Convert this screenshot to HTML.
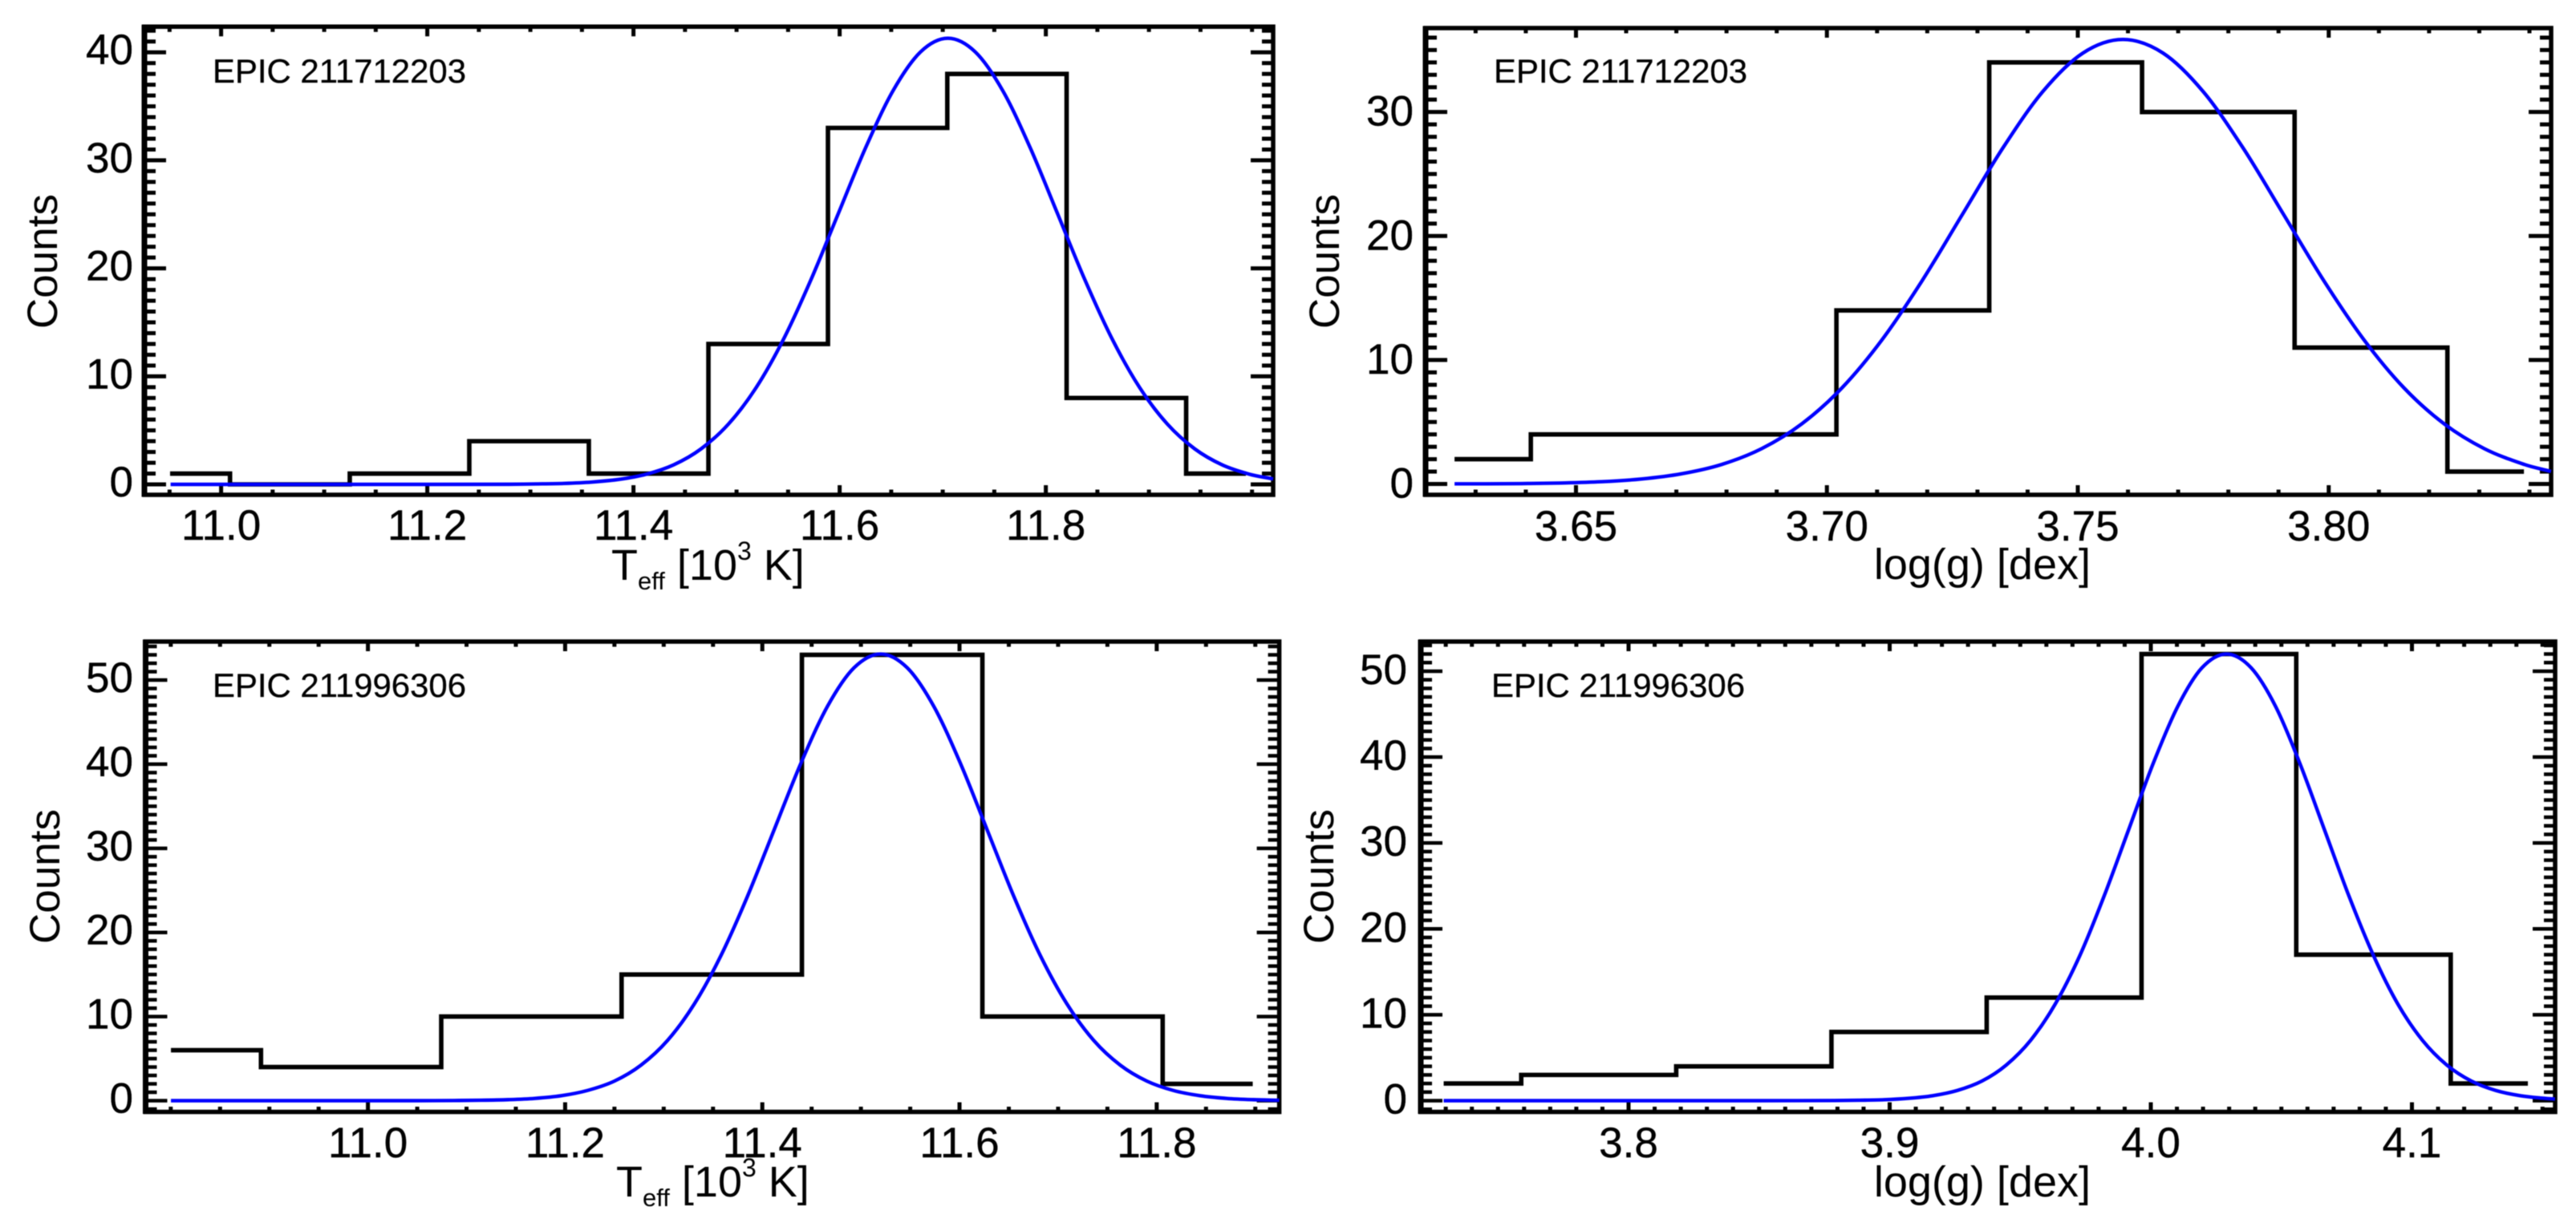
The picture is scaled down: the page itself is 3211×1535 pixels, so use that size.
<!DOCTYPE html>
<html lang="en">
<head>
<meta charset="utf-8">
<title>EPIC histograms</title>
<style>
html,body{margin:0;padding:0;background:#fff;width:3211px;height:1535px;overflow:hidden}
svg{display:block;filter:blur(0.6px)}
text{font-family:"Liberation Sans",Arial,sans-serif;fill:#000;white-space:pre}
.title{font-size:54px}
.counts{font-size:53px}
.epic{font-size:42px;stroke:#000;stroke-width:0.3px}
.tick{font-size:53px;stroke:#000;stroke-width:0.4px}
</style>
</head>
<body>
<svg id="chart" xmlns="http://www.w3.org/2000/svg" width="3211" height="1535" viewBox="0 0 3211 1535">
  <rect x="0" y="0" width="3211" height="1535" fill="#fff"/>

  <g id="p1">
    <text class="epic" x="265" y="103" textLength="316" lengthAdjust="spacingAndGlyphs">EPIC 211712203</text>
    <text class="counts" text-anchor="middle" transform="translate(71 326) rotate(-90)">Counts</text>
    <text class="title" x="762" y="723">T<tspan dy="12" font-size="31">eff</tspan><tspan dy="-12"> [10</tspan><tspan dy="-25" font-size="32">3</tspan><tspan dy="25"> K]</tspan></text>
  </g>
  <g id="p2">
    <text class="epic" x="1862" y="103" textLength="316" lengthAdjust="spacingAndGlyphs">EPIC 211712203</text>
    <text class="counts" text-anchor="middle" transform="translate(1669 326) rotate(-90)">Counts</text>
    <text class="title" x="2606" y="722" text-anchor="end">log(g) [dex]</text>
  </g>
  <g id="p3">
    <text class="epic" x="265" y="869" textLength="316" lengthAdjust="spacingAndGlyphs">EPIC 211996306</text>
    <text class="counts" text-anchor="middle" transform="translate(74 1093) rotate(-90)">Counts</text>
    <text class="title" x="768" y="1492">T<tspan dy="12" font-size="31">eff</tspan><tspan dy="-12"> [10</tspan><tspan dy="-25" font-size="32">3</tspan><tspan dy="25"> K]</tspan></text>
  </g>
  <g id="p4">
    <text class="epic" x="1859" y="869" textLength="316" lengthAdjust="spacingAndGlyphs">EPIC 211996306</text>
    <text class="counts" text-anchor="middle" transform="translate(1662 1093) rotate(-90)">Counts</text>
    <text class="title" x="2606" y="1492" text-anchor="end">log(g) [dex]</text>
  </g>
</svg>
<script>
// ---------- Panel 1: Teff, EPIC 211712203 ----------
const p1BinCenters = [10.9505, 11.0668, 11.1828, 11.2987, 11.4147, 11.5307, 11.6466, 11.7622, 11.8781, 11.9941];
const p1Counts = [1, 0, 1, 4, 1, 13, 33, 38, 8, 1];
const p1CurveX = [10.951, 11.2, 11.2794, 11.306, 11.3326, 11.3592, 11.3858, 11.4124, 11.439, 11.4656, 11.4922, 11.5188, 11.5454, 11.572, 11.5986, 11.6252, 11.6518, 11.6784, 11.705, 11.7316, 11.7582, 11.7848, 11.8114, 11.838, 11.8646, 11.8912, 11.9178, 11.9444, 11.971, 11.9976, 12.0205];
const p1CurveY = [0, 0, 0.01, 0.04, 0.09, 0.21, 0.46, 0.94, 1.81, 3.29, 5.59, 8.93, 13.41, 18.91, 25.05, 31.17, 36.45, 40.03, 41.3, 40.03, 36.45, 31.17, 25.05, 18.91, 13.41, 8.93, 5.59, 3.29, 1.81, 0.94, 0.5];
const p1XTicks = [11.0, 11.2, 11.4, 11.6, 11.8];
const p1XLabels = ['11.0', '11.2', '11.4', '11.6', '11.8'];
const p1YTicks = [0, 10, 20, 30, 40];
const p1YLabels = ['0', '10', '20', '30', '40'];

// ---------- Panel 2: log(g), EPIC 211712203 ----------
const p2BinCenters = [3.6258, 3.6562, 3.6867, 3.7171, 3.7476, 3.778, 3.8084, 3.8389];
const p2Counts = [2, 4, 4, 14, 34, 30, 11, 1];
const p2CurveX = [3.6258, 3.631, 3.639, 3.647, 3.655, 3.663, 3.671, 3.679, 3.687, 3.695, 3.703, 3.711, 3.719, 3.727, 3.735, 3.743, 3.751, 3.759, 3.767, 3.775, 3.783, 3.791, 3.799, 3.807, 3.815, 3.823, 3.831, 3.839, 3.8443];
const p2CurveY = [0.01, 0.01, 0.03, 0.08, 0.18, 0.40, 0.82, 1.57, 2.85, 4.85, 7.75, 11.64, 16.41, 21.74, 27.06, 31.64, 34.75, 35.85, 34.75, 31.64, 27.06, 21.74, 16.41, 11.64, 7.75, 4.85, 2.85, 1.57, 1.01];
const p2XTicks = [3.65, 3.70, 3.75, 3.80];
const p2XLabels = ['3.65', '3.70', '3.75', '3.80'];
const p2YTicks = [0, 10, 20, 30];
const p2YLabels = ['0', '10', '20', '30'];

// ---------- Panel 3: Teff, EPIC 211996306 ----------
const p3BinCenters = [10.8002, 10.9828, 11.1659, 11.3486, 11.5317, 11.7147, 11.8974];
const p3Counts = [6, 4, 10, 15, 53, 10, 2];
const p3CurveX = [10.8002, 11.05, 11.088, 11.115, 11.142, 11.169, 11.196, 11.2225, 11.25, 11.277, 11.304, 11.331, 11.358, 11.385, 11.412, 11.439, 11.466, 11.493, 11.52, 11.547, 11.574, 11.601, 11.628, 11.655, 11.682, 11.709, 11.736, 11.763, 11.79, 11.817, 11.844, 11.871, 11.898, 11.9243];
const p3CurveY = [0, 0, 0.02, 0.05, 0.12, 0.27, 0.59, 1.21, 2.33, 4.23, 7.18, 11.49, 17.24, 24.31, 32.21, 40.08, 46.86, 51.46, 53.1, 51.46, 46.86, 40.08, 32.21, 24.31, 17.24, 11.49, 7.18, 4.23, 2.33, 1.21, 0.59, 0.27, 0.12, 0.05];
const p3XTicks = [11.0, 11.2, 11.4, 11.6, 11.8];
const p3XLabels = ['11.0', '11.2', '11.4', '11.6', '11.8'];
const p3YTicks = [0, 10, 20, 30, 40, 50];
const p3YLabels = ['0', '10', '20', '30', '40', '50'];

// ---------- Panel 4: log(g), EPIC 211996306 ----------
const p4BinCenters = [3.7292, 3.7886, 3.8479, 3.9075, 3.9668, 4.0261, 4.0853, 4.1444];
const p4Counts = [2, 3, 4, 8, 12, 52, 17, 2];
const p4CurveX = [3.7292, 3.85, 3.879, 3.8884, 3.8978, 3.9071, 3.9165, 3.9259, 3.9353, 3.9446, 3.954, 3.9634, 3.9728, 3.9821, 3.9915, 4.0009, 4.0103, 4.0196, 4.029, 4.0384, 4.0478, 4.0571, 4.0665, 4.0759, 4.0853, 4.0946, 4.104, 4.1134, 4.1228, 4.1321, 4.1415, 4.1509, 4.1548];
const p4CurveY = [0, 0, 0.02, 0.05, 0.11, 0.27, 0.58, 1.19, 2.28, 4.14, 7.04, 11.25, 16.88, 23.81, 31.54, 39.25, 45.89, 50.4, 52, 50.4, 45.89, 39.25, 31.54, 23.81, 16.88, 11.25, 7.04, 4.14, 2.28, 1.19, 0.58, 0.27, 0.19];
const p4XTicks = [3.8, 3.9, 4.0, 4.1];
const p4XLabels = ['3.8', '3.9', '4.0', '4.1'];
const p4YTicks = [0, 10, 20, 30, 40, 50];
const p4YLabels = ['0', '10', '20', '30', '40', '50'];

const SVGNS = 'http://www.w3.org/2000/svg';

function make(parent, tag, props) {
  const el = document.createElementNS(SVGNS, tag);
  for (const k in props) el.setAttribute(k, props[k]);
  parent.appendChild(el);
  return el;
}

function linear(d0, d1, r0, r1) {
  return function (v) { return r0 + (v - d0) * (r1 - r0) / (d1 - d0); };
}

function smoothPath(pts) {
  let d = 'M' + pts[0][0].toFixed(2) + ' ' + pts[0][1].toFixed(2);
  for (let i = 0; i < pts.length - 1; i++) {
    const p0 = pts[Math.max(i - 1, 0)], p1 = pts[i], p2 = pts[i + 1], p3 = pts[Math.min(i + 2, pts.length - 1)];
    // limit tangents over uneven point spacing
    const h = p2[0] - p1[0];
    const m1 = (p2[1] - p0[1]) / Math.max(p2[0] - p0[0], 1e-6);
    const m2 = (p3[1] - p1[1]) / Math.max(p3[0] - p1[0], 1e-6);
    d += 'C' + (p1[0] + h / 3).toFixed(2) + ' ' + (p1[1] + m1 * h / 3).toFixed(2) + ' ' +
         (p2[0] - h / 3).toFixed(2) + ' ' + (p2[1] - m2 * h / 3).toFixed(2) + ' ' +
         p2[0].toFixed(2) + ' ' + p2[1].toFixed(2);
  }
  return d;
}

function drawPanel(id, c, binCenters, counts, curveX, curveY, xTicks, xLabels, yTicks, yLabels) {
  const g = document.getElementById(id);
  const sx = linear(c.xMin, c.xMax, c.left, c.right);
  const sy = linear(c.yMin, c.yMax, c.bottom, c.top);

  // x ticks, minor and major, on bottom and top edges
  const kx0 = Math.ceil(c.xMin / c.xMinor - 1e-6), kx1 = Math.floor(c.xMax / c.xMinor + 1e-6);
  for (let k = kx0; k <= kx1; k++) {
    const v = k * c.xMinor;
    const major = xTicks.some(function (t) { return Math.abs(t - v) < c.xMinor / 10; });
    const len = major ? 12 : 6.5;
    const px = sx(v);
    const b = make(g, 'line', { x1: px, x2: px, y1: c.bottom, y2: c.bottom - len, stroke: '#000', 'stroke-width': 5 });
    
    
    const t = make(g, 'line', { x1: px, x2: px, y1: c.top, y2: c.top + len, stroke: '#000', 'stroke-width': 5 });
    
    
  }

  // y ticks, minor and major, on left and right edges
  const ky0 = Math.ceil(c.yMin), ky1 = Math.floor(c.yMax);
  for (let k = ky0; k <= ky1; k++) {
    const major = yTicks.indexOf(k) >= 0;
    const py = sy(k);
    const l = make(g, 'line', { x1: c.left, x2: c.left + (major ? 27 : 14), y1: py, y2: py, stroke: '#000', 'stroke-width': c.yTickWidth });
    
    
    const r = make(g, 'line', { x1: c.right, x2: c.right - (major ? 28 : 14), y1: py, y2: py, stroke: '#000', 'stroke-width': c.yTickWidth });
    
    
  }

  // frame
  const frame = make(g, 'path', {
    d: 'M' + c.left + ' ' + c.top + 'H' + c.right + 'V' + c.bottom + 'H' + c.left + 'Z',
    fill: 'none', stroke: '#000', 'stroke-width': 5.5, 'stroke-linejoin': 'miter'
  });
  
  
  const leftEdge = make(g, 'line', { x1: c.left, x2: c.left, y1: c.top - 2.5, y2: c.bottom + 2.5, stroke: '#000', 'stroke-width': 7 });
  
  

  // tick labels
  xTicks.forEach(function (v, i) {
    const t = make(g, 'text', { class: 'tick', x: sx(v), y: c.xLabelY, 'text-anchor': 'middle' });
    t.textContent = xLabels[i];
    
    
  });
  yTicks.forEach(function (v, i) {
    const t = make(g, 'text', { class: 'tick', x: c.yLabelX, y: sy(v) + c.yLabelDy, 'text-anchor': 'end' });
    t.textContent = yLabels[i];
    
    
  });

  // histogram: steps change half way between bin centres
  let d = 'M' + sx(binCenters[0]).toFixed(2) + ' ' + sy(counts[0]).toFixed(2);
  for (let i = 1; i < counts.length; i++) {
    const mid = sx((binCenters[i - 1] + binCenters[i]) / 2);
    d += 'H' + mid.toFixed(2) + 'V' + sy(counts[i]).toFixed(2);
  }
  d += 'H' + sx(binCenters[binCenters.length - 1]).toFixed(2);
  const hist = make(g, 'path', { d: d, fill: 'none', stroke: '#000', 'stroke-width': 5.6, 'stroke-linejoin': 'miter' });
  
  

  // fitted curve
  const pts = curveX.map(function (v, i) { return [sx(v), sy(curveY[i])]; });
  const curve = make(g, 'path', { d: smoothPath(pts), fill: 'none', stroke: '#0000ff', 'stroke-width': 4.4 });
  
  
}

drawPanel('p1', { left: 180, right: 1587, top: 33.3, bottom: 617, xMin: 10.9256, xMax: 12.0205, yMin: -0.965, yMax: 42.37, xMinor: 0.05, yTickWidth: 5, xLabelY: 673, yLabelX: 166, yLabelDy: 15 },
  p1BinCenters, p1Counts, p1CurveX, p1CurveY, p1XTicks, p1XLabels, p1YTicks, p1YLabels);
drawPanel('p2', { left: 1777, right: 3180, top: 35, bottom: 617, xMin: 3.62003, xMax: 3.84432, yMin: -0.873, yMax: 36.77, xMinor: 0.01, yTickWidth: 5, xLabelY: 674, yLabelX: 1762, yLabelDy: 17 },
  p2BinCenters, p2Counts, p2CurveX, p2CurveY, p2XTicks, p2XLabels, p2YTicks, p2YLabels);
drawPanel('p3', { left: 181.5, right: 1594.6, top: 800, bottom: 1386.5, xMin: 10.7745, xMax: 11.9243, yMin: -1.335, yMax: 54.58, xMinor: 0.05, yTickWidth: 4.5, xLabelY: 1443, yLabelX: 166, yLabelDy: 15 },
  p3BinCenters, p3Counts, p3CurveX, p3CurveY, p3XTicks, p3XLabels, p3YTicks, p3YLabels);
drawPanel('p4', { left: 1771, right: 3185, top: 800, bottom: 1386.5, xMin: 3.72043, xMax: 4.15484, yMin: -1.307, yMax: 53.45, xMinor: 0.01, yTickWidth: 4.5, xLabelY: 1443, yLabelX: 1754, yLabelDy: 16 },
  p4BinCenters, p4Counts, p4CurveX, p4CurveY, p4XTicks, p4XLabels, p4YTicks, p4YLabels);
</script>
</body>
</html>
